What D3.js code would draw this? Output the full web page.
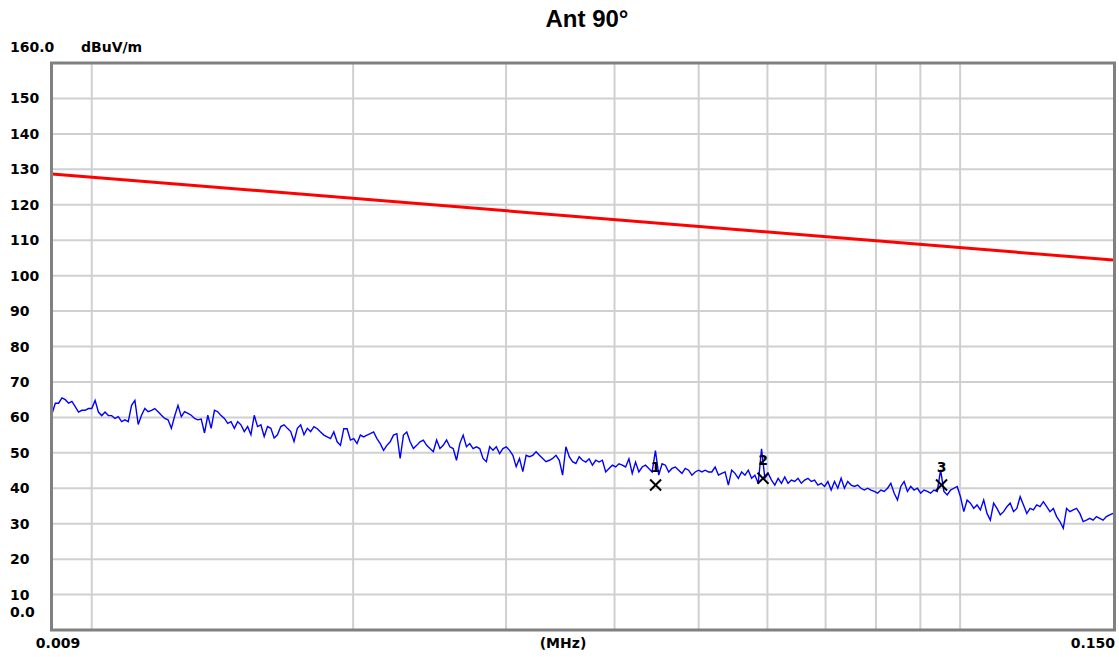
<!DOCTYPE html>
<html>
<head>
<meta charset="utf-8">
<script src="https://cdn.jsdelivr.net/npm/d3@7"></script>
<style>
body{margin:0;background:#fff;}
text{font-family:"DejaVu Sans",sans-serif;font-weight:bold;fill:#000;}
</style>
</head>
<body>
<div id="main"></div>
<script>
/////////////////////////////////////
var title='Ant 90°';
var yUnit='dBuV/m';
var xUnit='(MHz)';
var fStart=0.009, fStop=0.150;
var yTicks=[10,20,30,40,50,60,70,80,90,100,110,120,130,140,150];
var xGrid=[0.01,0.02,0.03,0.04,0.05,0.06,0.07,0.08,0.09,0.1];

var limitFreq=[0.009,0.150];
var limitLevel=[128.7,104.4];

var trace1=[61,64,64,65.5,65,64,64.5,63,61.5,62,62,62.5,62.5,64.8,61.5,60.5,61.5,60.5,60.5,59.7,
60.2,58.8,59.3,58.8,63.4,64.8,58,60.6,62.5,61.6,62,62.5,61.6,60.6,59.7,59.3,56.9,60.4,63.4,60.2,
61.6,61.1,60.6,59.7,59.3,59.5,55.6,60.6,56.9,62,61.6,60.5,59.7,58.3,58.8,56.9,58.8,57.9,56,57.4,
55.1,60.6,57.4,57.9,54.6,57.4,56.9,54.2,55.1,57.4,57.9,56.9,56,53.2,56.9,57.9,55.1,56.9,56,57.4];
var trace2=[56.8,55.9,55,54.5,54,55.9,53.1,52.1,56.8,56.8,53.6,54,52.6,55,54.5,55,55.4,55.9,54,52.6,
50.7,52.1,53.1,55,55.4,48.4,55,55.9,53.1,51.2,52.1,53.1,53.6,52.1,51.2,50.3,53.6,51.2,52.1,53.6,
51.7,51.2,47.9,52.6,55,51.7,52.6,51.2,51.7,51.2,48.4,47.5,51.7,50.7,51.7,49.8,51.2,51.7,50.7,49.3,
46.1,48.4,44.7,49.3,48.9,49.3,50.3,49.3,48.4,47.5,47.9,48.4,49.3,47.9,43.7,51.7,48.9,47.5,47,48.9];
var trace3=[47.9,47.4,48.3,46.5,47.9,47.4,47.9,44.6,45.6,46.5,46,46.9,46.5,46,48.3,44.2,47.4,44.6,46,46.5,
45.6,44.6,50.6,43.7,46.9,46.5,44.6,45.6,46,45.1,44.2,45.6,45.1,43.7,44.6,45.1,44.6,45.1,44.6,44.6,
46,43.7,44.2,44.6,40.9,45.1,44.2,42.8,44.6,43.7,45.1,42.8,43.7,41.4,51.1,42.8,44.2,42.3,40.9,42.8,
41.4,43.2,41.4,42.3,41.9,42.8,41.4,42.3,42.8,41.9,42.3,40.9,41.4,40.5,41.9,39.5,41.9,40,42.8,40];
var trace4=[41.9,40.9,40.5,40.9,40,39.5,40,39.5,39.1,38.6,39.5,39.1,40,41.4,38.6,36.7,40.5,41.9,39.1,40.5,
39.5,40,38.6,39.5,39.1,38.6,39.5,39.1,45.2,39.1,38.1,39.5,40,40.5,37.6,33.4,36.7,35.8,34.3,35.3,
33.9,36.7,32.9,31,35.8,34.3,32.5,33.4,34.8,35.8,33.4,34.3,37.6,35.3,32.9,34.3,33.9,35.3,34.8,36.2,
34.8,33.4,34.3,32,30.6,28.7,34.3,33.4,33.9,34.3,32.9,30.6,31,31.5,31,32,31.5,31,32,32.5,32.9];

var markerFreq=[0.0446,0.0593,0.0952];
var markerLevel=[40.9,42.8,40.9];
var markerName=['1','2','3'];
/////////////////////////////////////

var traceLevel=trace1.concat(trace2,trace3,trace4);
var n=traceLevel.length;
var trace=traceLevel.map(function(v,i){
  return {f:fStart*Math.pow(fStop/fStart,i/(n-1)),v:v};
});
var limit=limitFreq.map(function(f,i){return {f:f,v:limitLevel[i]}});

var W=1119,H=657;
var x=d3.scaleLog().domain([fStart,fStop]).range([52,1113]);
var y=d3.scaleLinear().domain([0,160]).range([630,63]);

var svg=d3.select('#main')
  .append('svg')
    .attr('width',W)
    .attr('height',H);

svg.append('rect')
    .attr('x',x(fStart)).attr('y',y(160))
    .attr('width',x(fStop)-x(fStart)).attr('height',y(0)-y(160))
    .style('fill','#fff');

var grid=svg.append('g').attr('class','grid')
    .style('stroke','#d0d0d0').style('stroke-width',2);
grid.selectAll('.hg')
    .data(yTicks)
  .enter().append('line')
    .attr('x1',x(fStart)).attr('x2',x(fStop))
    .attr('y1',function(d){return y(d)}).attr('y2',function(d){return y(d)});
grid.selectAll('.vg')
    .data(xGrid)
  .enter().append('line')
    .attr('x1',function(d){return x(d)}).attr('x2',function(d){return x(d)})
    .attr('y1',y(160)).attr('y2',y(0));

svg.append('path')
    .datum(limit)
    .attr('d',d3.line().x(function(d){return x(d.f)}).y(function(d){return y(d.v)}))
    .style('fill','none').style('stroke','#ff0000').style('stroke-width',3);

svg.append('path')
    .datum(trace)
    .attr('d',d3.line().x(function(d){return x(d.f)}).y(function(d){return y(d.v)}))
    .style('fill','none').style('stroke','#0000ff').style('stroke-width',1.4);

var mk=svg.selectAll('.marker')
    .data(markerFreq)
  .enter().append('g')
    .attr('class','marker')
    .attr('transform',function(d,i){return 'translate('+x(d)+','+y(markerLevel[i])+')'});
mk.append('path')
    .attr('d','M-5.5,-5.5L5.5,5.5M-5.5,5.5L5.5,-5.5')
    .style('stroke','#000').style('stroke-width',2);
mk.append('text')
    .attr('y',-13)
    .attr('text-anchor','middle')
    .style('font-size','14px')
    .text(function(d,i){return markerName[i]});

// frame
svg.append('rect')
    .attr('x',x(fStart)-0.5).attr('y',y(160))
    .attr('width',x(fStop)-x(fStart)+2).attr('height',y(0)-y(160))
    .style('fill','none').style('stroke','#808080').style('stroke-width',3);

svg.selectAll('.ylab')
    .data(yTicks)
  .enter().append('text')
    .attr('x',10)
    .attr('y',function(d){return y(d)+5})
    .style('font-size','14px')
    .text(function(d){return d});
svg.append('text').attr('x',10).attr('y',617).style('font-size','14px').text('0.0');
svg.append('text').attr('x',10).attr('y',52).style('font-size','14px').text('160.0');
svg.append('text').attr('x',81).attr('y',52).style('font-size','14px').text(yUnit);

svg.append('text').attr('x',x(fStart)+6).attr('y',648).attr('text-anchor','middle')
    .style('font-size','14px').text(d3.format('.3f')(fStart));
svg.append('text').attr('x',x(fStop)+2).attr('y',648).attr('text-anchor','end')
    .style('font-size','14px').text(d3.format('.3f')(fStop));
svg.append('text').attr('x',563).attr('y',648).attr('text-anchor','middle')
    .style('font-size','14px').text(xUnit);

svg.append('text')
    .attr('x',587).attr('y',27)
    .attr('text-anchor','middle')
    .style('font-family','"Liberation Sans",Arial,sans-serif')
    .style('font-size','24px')
    .text(title);
</script>
</body>
</html>
